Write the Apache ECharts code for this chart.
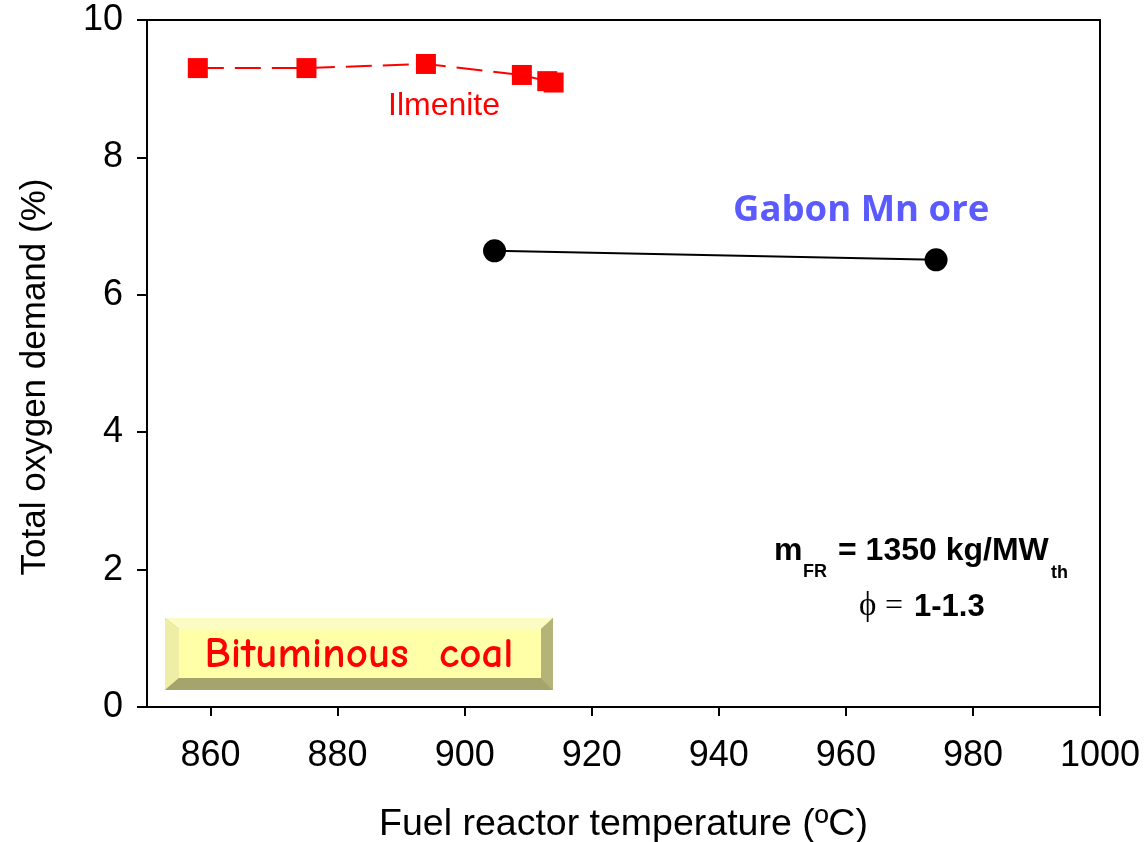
<!DOCTYPE html>
<html>
<head>
<meta charset="utf-8">
<title>Total oxygen demand vs fuel reactor temperature</title>
<script src="https://cdn.jsdelivr.net/npm/echarts@6/dist/echarts.min.js"></script>
<style>
  html, body { margin: 0; padding: 0; background: #ffffff; }
  #chart { width: 1144px; height: 842px; }
</style>
</head>
<body>
<div id="chart"></div>
<script>
// Fuel reactor temperature (ºC) and total oxygen demand (%)
const ilmeniteTemp   = [858, 875.1, 893.9, 909, 913, 914];
const ilmeniteDemand = [9.30, 9.30, 9.36, 9.20, 9.11, 9.09];

const gabonTemp   = [904.7, 974.2];
const gabonDemand = [6.64, 6.51];

const xTickValues = [860, 880, 900, 920, 940, 960, 980, 1000];
const yTickValues = [0, 2, 4, 6, 8, 10];

const xName = 'Fuel reactor temperature (ºC)';
const yName = 'Total oxygen demand (%)';

const pairs = (xs, ys) => xs.map((x, i) => [x, ys[i]]);

const FONT = 'Arial, "Liberation Sans", sans-serif';
const chart = echarts.init(document.getElementById('chart'), null, { renderer: 'canvas' });

const axisLineStyle = { color: '#000', width: 2 };

const option = {
  backgroundColor: '#ffffff',
  animation: false,
  grid: { left: 147, right: 44, top: 20, bottom: 135, containLabel: false, outerBoundsMode: 'none' },
  xAxis: [{
    type: 'value', min: 850, max: 1000,
    name: xName, nameLocation: 'middle', nameGap: 99,
    nameTextStyle: { fontFamily: FONT, fontSize: 37.5, color: '#000' },
    axisLine: { show: true, lineStyle: axisLineStyle },
    axisTick: { show: true, inside: false, length: 9, lineStyle: axisLineStyle, customValues: xTickValues },
    axisLabel: { fontFamily: FONT, fontSize: 36, color: '#000', margin: 31, customValues: xTickValues, formatter: v => String(v) },
    splitLine: { show: false }
  }, {
    type: 'value', min: 850, max: 1000, position: 'top',
    axisLine: { show: true, onZero: false, lineStyle: axisLineStyle },
    axisTick: { show: false }, axisLabel: { show: false }, splitLine: { show: false }
  }],
  yAxis: [{
    type: 'value', min: 0, max: 10, interval: 2,
    axisLine: { show: true, lineStyle: axisLineStyle },
    axisTick: { show: true, inside: false, length: 10, lineStyle: axisLineStyle, customValues: yTickValues },
    axisLabel: { fontFamily: FONT, fontSize: 36, color: '#000', margin: 24, customValues: yTickValues, formatter: v => String(v) },
    splitLine: { show: false }
  }, {
    type: 'value', min: 0, max: 10, position: 'right',
    axisLine: { show: true, onZero: false, lineStyle: axisLineStyle },
    axisTick: { show: false }, axisLabel: { show: false }, splitLine: { show: false }
  }],
  series: [{
    name: 'Ilmenite',
    type: 'line',
    data: pairs(ilmeniteTemp, ilmeniteDemand),
    symbol: 'rect', symbolSize: 20,
    itemStyle: { color: '#ff0000' },
    lineStyle: { color: '#ff0000', width: 2, type: [26, 11] },
    z: 3
  }, {
    name: 'Gabon Mn ore',
    type: 'line',
    data: pairs(gabonTemp, gabonDemand),
    symbol: 'circle', symbolSize: 23,
    itemStyle: { color: '#000000' },
    lineStyle: { color: '#000000', width: 2 },
    z: 3
  }],
  graphic: [
    // y-axis title
    { type: 'text', x: 35, y: 377, rotation: Math.PI / 2,
      style: { text: yName, align: 'center', verticalAlign: 'middle', fontFamily: FONT, fontSize: 35, fill: '#000' } },
    // series labels
    { type: 'text', left: 388, top: 90, style: { text: 'Ilmenite', fontFamily: FONT, fontSize: 32, fill: '#ff0000' } },
    { type: 'text', left: 733, top: 192, style: { text: 'Gabon Mn ore', fontFamily: '"Open Sans", sans-serif', fontWeight: 'bold', fontSize: 36.5, fill: '#5a5aff' } },
    // operating conditions
    { type: 'text', left: 774, top: 535, style: { text: 'm', fontFamily: FONT, fontWeight: 'bold', fontSize: 32, fill: '#000' } },
    { type: 'text', left: 803, top: 563, style: { text: 'FR', fontFamily: FONT, fontWeight: 'bold', fontSize: 18, fill: '#000' } },
    { type: 'text', left: 838, top: 535, style: { text: '= 1350 kg/MW', fontFamily: FONT, fontWeight: 'bold', fontSize: 32, fill: '#000' } },
    { type: 'text', left: 1051, top: 564, style: { text: 'th', fontFamily: FONT, fontWeight: 'bold', fontSize: 18, fill: '#000' } },
    { type: 'text', left: 859, top: 590, style: { text: 'ϕ', fontFamily: '"Liberation Serif", serif', fontSize: 33, fill: '#000' } },
    { type: 'text', left: 885, top: 591, style: { text: '=', fontFamily: '"Liberation Serif", serif', fontSize: 32, fill: '#000' } },
    { type: 'text', left: 914, top: 592, style: { text: '1-1.3', fontFamily: FONT, fontWeight: 'bold', fontSize: 31, fill: '#000' } },
    // fuel badge with bevelled frame
    {
      type: 'group', left: 165, top: 618,
      children: [
        { type: 'rect', shape: { x: 0, y: 0, width: 388, height: 72 }, style: { fill: '#b9b97c' } },
        { type: 'polygon', shape: { points: [[0, 0], [388, 0], [376, 11], [14, 11]] }, style: { fill: '#fbfbc4' } },
        { type: 'polygon', shape: { points: [[0, 0], [14, 11], [14, 60], [0, 72]] }, style: { fill: '#eeeea6' } },
        { type: 'polygon', shape: { points: [[0, 72], [14, 60], [376, 60], [388, 72]] }, style: { fill: '#a4a46c' } },
        { type: 'polygon', shape: { points: [[388, 0], [376, 11], [376, 60], [388, 72]] }, style: { fill: '#b4b478' } },
        { type: 'rect', shape: { x: 14, y: 11, width: 362, height: 49 }, style: { fill: '#ffffa8' } },
        { type: 'text', x: 194, y: 37, style: { text: 'Bituminous  coal', align: 'center', verticalAlign: 'middle', fontFamily: '"Comic Sans MS", "Comic Neue", Lato, sans-serif', fontWeight: 'bold', fontSize: 43, fill: '#ff0000' } }
      ]
    }
  ]
};

chart.setOption(option);
</script>
</body>
</html>
